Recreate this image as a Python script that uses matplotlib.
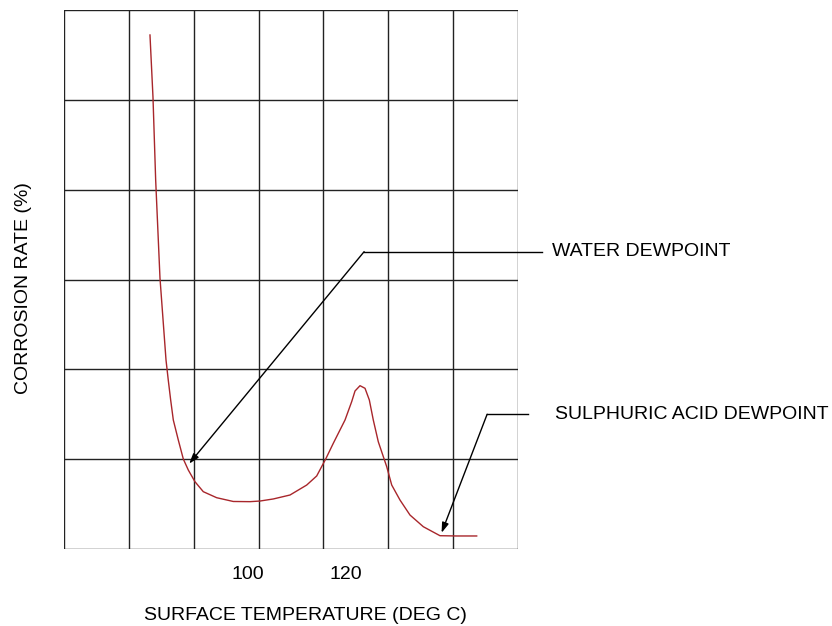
import numpy as np
import matplotlib
matplotlib.use("Agg")
import matplotlib.pyplot as plt

plt.rcParams['font.family'] = ['Liberation Sans', 'DejaVu Sans']

# ---------- data (temperature in deg C, rate in grid units) ----------
temp = [80.00, 80.61, 81.16, 82.04, 83.27, 83.73, 84.22, 84.76, 85.78, 86.80,
        87.82, 89.18, 90.88, 93.61, 97.00, 100.41, 102.45, 105.16, 108.57, 111.98,
        114.02, 115.86, 117.41, 119.80, 121.16, 121.84, 122.86, 123.88, 124.76,
        125.57, 126.59, 128.31, 129.33, 131.02, 133.06, 135.78, 139.18, 142.59,
        146.67]
rate = [5.722, 5.032, 4.108, 3.017, 2.104, 1.881, 1.659, 1.436, 1.213, 1.002,
        0.879, 0.749, 0.638, 0.571, 0.529, 0.527, 0.534, 0.557, 0.601, 0.712,
        0.813, 1.002, 1.177, 1.436, 1.640, 1.759, 1.818, 1.789, 1.659,
        1.436, 1.194, 0.916, 0.712, 0.545, 0.378, 0.248, 0.148, 0.145,
        0.145]

x_ticks = [100, 120]
x_range = (62.45, 155.1)
y_range = (0, 6)
n_cols, n_rows = 7, 6

# annotations: (text, arrow tip, elbow, end of horizontal leader, text x)
notes = [
    ("WATER DEWPOINT", (88.0, 0.95), (123.7, 3.31), (160.0, 3.31), 162.0),
    ("SULPHURIC ACID DEWPOINT", (139.5, 0.18), (148.8, 1.50), (157.1, 1.50), 162.7),
]

fig = plt.figure(figsize=(8.32, 6.26), dpi=100)
ax = fig.add_axes([0.0769, 0.123, 0.5457, 0.861])

ax.set_xlim(*x_range)
ax.set_ylim(*y_range)

# grid of 7 x 6 cells
for gx in np.linspace(x_range[0], x_range[1], n_cols + 1):
    ax.axvline(gx, color='#222222', lw=1.0, zorder=1)
for gy in np.linspace(y_range[0], y_range[1], n_rows + 1):
    ax.axhline(gy, color='#222222', lw=1.0, zorder=1)

ax.plot(temp, rate, color='#a8262b', lw=1.0, zorder=3, solid_joinstyle='round')

for label, tip, elbow, hend, tx in notes:
    ax.plot([elbow[0], hend[0]], [elbow[1], hend[1]], color='black', lw=1.0,
            clip_on=False, zorder=4)
    ax.annotate('', xy=tip, xytext=elbow,
                arrowprops=dict(arrowstyle='-|>,head_length=0.6,head_width=0.2',
                                color='black', lw=1.0, shrinkA=0, shrinkB=0),
                annotation_clip=False, zorder=4)
    ax.text(tx, elbow[1], label, fontsize=14, va='center', ha='left',
            clip_on=False)

for s in ax.spines.values():
    s.set_visible(False)

ax.set_xticks(x_ticks)
ax.set_xticklabels([str(t) for t in x_ticks], fontsize=14)
ax.tick_params(axis='x', length=0, pad=12)
ax.set_yticks([])

fig.text(305 / 832, 1 - 615 / 626, 'SURFACE TEMPERATURE (DEG C)', fontsize=14,
         ha='center', va='center')
fig.text(24 / 832, 1 - 288 / 626, 'CORROSION RATE (%)', fontsize=14,
         ha='center', va='center', rotation=90)

fig.savefig('out.png', dpi=100)
